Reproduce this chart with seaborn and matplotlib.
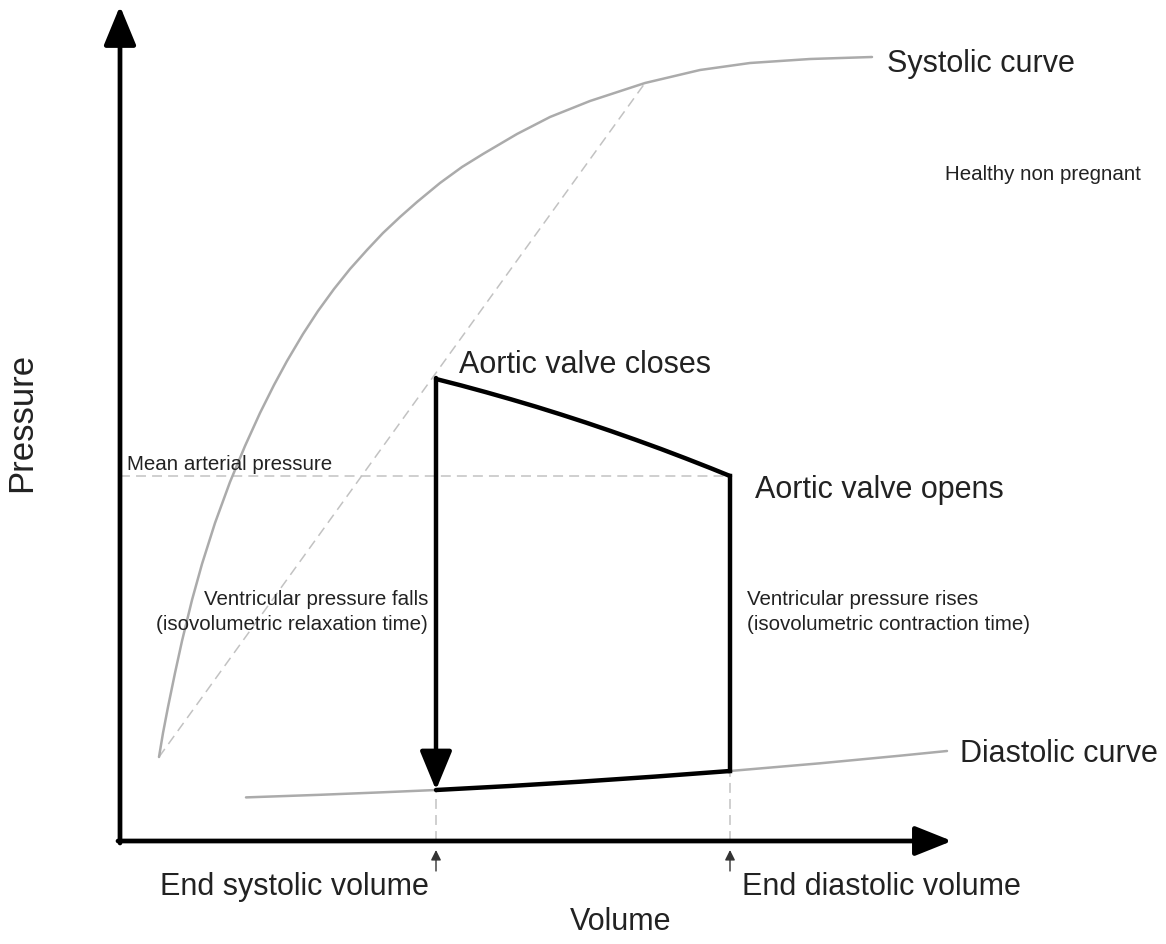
import numpy as np
import pandas as pd
import seaborn as sns
import matplotlib.pyplot as plt

# volume / pressure in arbitrary units (origin = axis corner)
systolic_v = [39, 43, 48, 55, 62, 72, 82, 95, 110, 125, 140, 154, 167, 183, 198, 214,
              230, 247, 263, 280, 297, 320, 342, 363, 397, 430, 470, 525, 580, 630, 690, 752]
systolic_p = [84, 108, 134, 168, 200, 241, 277, 318, 359, 395, 428, 456, 480, 507, 530, 552,
              572, 591, 608, 624, 639, 658, 674, 687, 707, 724, 740, 758, 771, 778, 782, 784]

diastolic_v = [126, 200, 260, 316, 390, 460, 535, 610, 700, 780, 827]
diastolic_p = [43.6, 46.2, 48.6, 51, 55, 59.3, 64.4, 70, 77.7, 85.3, 90]

# pressure-volume loop
ejection_v = [316, 341, 366, 391, 416, 441, 466, 491, 516, 541, 566, 591, 610]
ejection_p = [462, 455.6, 448.8, 441.7, 434.3, 426.5, 418.4, 409.9, 401.1, 392, 382.5, 372.7, 365]
filling_v = [316, 390, 460, 535, 610]
filling_p = [51, 55, 59.3, 64.4, 70]

esv = 316
edv = 610
map_p = 365
elastance_v = [39, 525]
elastance_p = [84, 758]

sns.set_style("white")
plt.rcParams['font.family'] = ['Liberation Sans', 'DejaVu Sans']

fig = plt.figure(figsize=(11.66, 9.45), dpi=100)
ax = fig.add_axes([0, 0, 1, 1])
ax.set_xlim(-120, 1046)
ax.set_ylim(-103, 842)
ax.axis('off')

grey = '#ababab'
dash_grey = '#c2c2c2'
txt = '#222222'

# dashed guides
ax.plot(elastance_v, elastance_p, color=dash_grey, lw=1.1, dashes=(6.5, 4))
ax.plot([0, edv], [map_p, map_p], color=dash_grey, lw=1.1, dashes=(6.5, 4))
ax.plot([esv, esv], [0, filling_p[0]], color=dash_grey, lw=1.1, dashes=(6.5, 4))
ax.plot([edv, edv], [0, filling_p[-1]], color=dash_grey, lw=1.1, dashes=(6.5, 4))

# systolic and diastolic curves
sns.lineplot(x=systolic_v, y=systolic_p, sort=False, color=grey, lw=1.8, ax=ax)
sns.lineplot(x=diastolic_v, y=diastolic_p, sort=False, color=grey, lw=1.8, ax=ax)

# loop
sns.lineplot(x=ejection_v, y=ejection_p, sort=False, color='k', lw=3.2, ax=ax)
sns.lineplot(x=filling_v, y=filling_p, sort=False, color='k', lw=3.2, ax=ax)
ax.plot([edv, edv], [filling_p[-1], ejection_p[-1]], color='k', lw=3.2, solid_capstyle='projecting')
ax.annotate('', xy=(esv, filling_p[0]), xytext=(esv, ejection_p[0] + 1),
            arrowprops=dict(arrowstyle='-|>,head_length=0.8,head_width=0.33', lw=3.2,
                            color='k', mutation_scale=30, shrinkA=0, shrinkB=0))

# axes
ax.annotate('', xy=(0, 835), xytext=(0, -2),
            arrowprops=dict(arrowstyle='-|>,head_length=0.8,head_width=0.33', lw=3.4,
                            color='k', mutation_scale=30, shrinkA=0, shrinkB=0))
ax.annotate('', xy=(832, 0), xytext=(-2, 0),
            arrowprops=dict(arrowstyle='-|>,head_length=0.75,head_width=0.3', lw=3.4,
                            color='k', mutation_scale=30, shrinkA=0, shrinkB=0))

# small volume markers
for v in [esv, edv]:
    ax.annotate('', xy=(v, -9), xytext=(v, -30),
                arrowprops=dict(arrowstyle='-|>,head_length=0.6,head_width=0.3', lw=1.0,
                                color='#333333', mutation_scale=10, shrinkA=0, shrinkB=0))

big = 22
small = 14.8
ax.text(767, 770, 'Systolic curve', fontsize=big, color=txt)
ax.text(825, 662, 'Healthy non pregnant', fontsize=small, color=txt)
ax.text(339, 469, 'Aortic valve closes', fontsize=big, color=txt)
ax.text(635, 344, 'Aortic valve opens', fontsize=big, color=txt)
ax.text(7, 372, 'Mean arterial pressure', fontsize=small, color=txt)
ax.text(308, 237, 'Ventricular pressure falls', fontsize=small, color=txt, ha='right')
ax.text(308, 212, '(isovolumetric relaxation time)', fontsize=small, color=txt, ha='right')
ax.text(627, 237, 'Ventricular pressure rises', fontsize=small, color=txt)
ax.text(627, 212, '(isovolumetric contraction time)', fontsize=small, color=txt)
ax.text(840, 80, 'Diastolic curve', fontsize=big, color=txt)
ax.text(40, -53, 'End systolic volume', fontsize=big, color=txt)
ax.text(622, -53, 'End diastolic volume', fontsize=big, color=txt)
ax.text(450, -88, 'Volume', fontsize=big, color=txt)
ax.text(-98, 420, 'Pressure', fontsize=25, color=txt, rotation=90, ha='center', va='center')

fig.savefig('out.png', dpi=100)
